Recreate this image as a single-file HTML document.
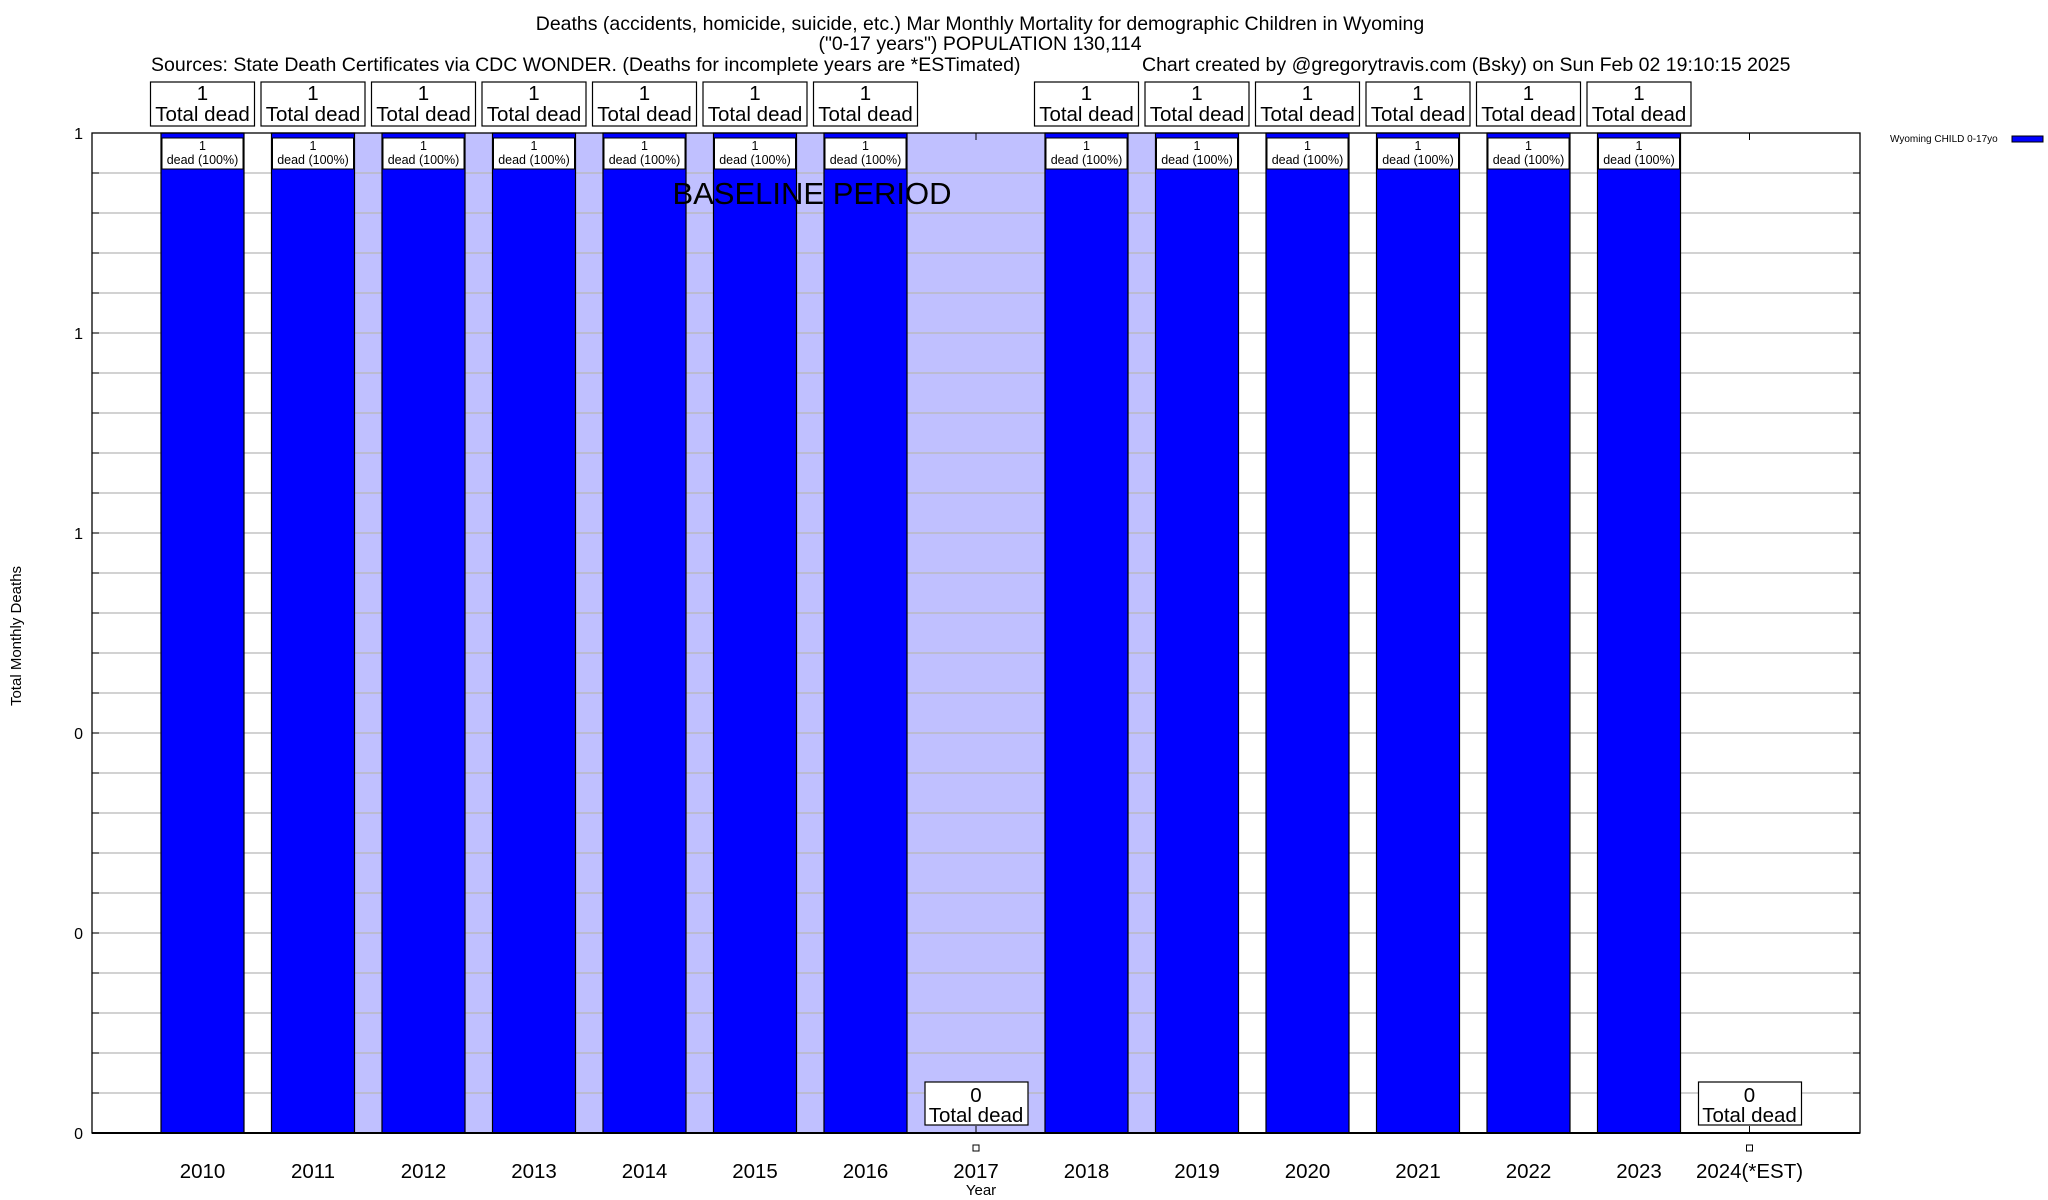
<!DOCTYPE html>
<html><head><meta charset="utf-8"><style>
html,body{margin:0;padding:0;background:#fff;}
svg{display:block;font-family:"Liberation Sans",Arial,sans-serif;}
</style></head><body>
<svg id="chart" width="2048" height="1200" viewBox="0 0 2048 1200" xmlns="http://www.w3.org/2000/svg">
<g font-size="19.5" fill="#000">
<text x="980" y="30" text-anchor="middle">Deaths (accidents, homicide, suicide, etc.) Mar Monthly Mortality for demographic Children in Wyoming</text>
<text x="980" y="50" text-anchor="middle">("0-17 years") POPULATION 130,114</text>
<text x="151" y="71">Sources: State Death Certificates via CDC WONDER. (Deaths for incomplete years are *ESTimated)</text>
<text x="1142" y="71">Chart created by @gregorytravis.com (Bsky) on Sun Feb 02 19:10:15 2025</text>
</g>
<g id="plot"></g>
<g>
<text x="1890" y="142" font-size="10">Wyoming CHILD 0-17yo</text>
<rect x="2012" y="136" width="31" height="6" fill="#0000ff" stroke="#000" stroke-width="1"/>
</g>
<text transform="translate(21,636) rotate(-90)" text-anchor="middle" font-size="15">Total Monthly Deaths</text>
<text x="981" y="1195" text-anchor="middle" font-size="15">Year</text>
</svg>
<script>
const categories = ["2010","2011","2012","2013","2014","2015","2016","2017","2018","2019","2020","2021","2022","2023","2024(*EST)"];
const deaths = [1,1,1,1,1,1,1,0,1,1,1,1,1,1,0];
const yTickValues = [0,0.2,0.4,0.6,0.8,1.0];
const yTickLabels = ["0","0","0","1","1","1"];
const baselineStart = 1.55;
const baselineEnd = 9.6;

const NS = "http://www.w3.org/2000/svg";
const plot = document.getElementById('plot');
const L = 92, R = 1860, T = 133, B = 1133;
const yMax = 1.0;
const x0 = 202.5, step = 110.5, barW = 83;
function xs(i){ return x0 + i*step; }
function ys(v){ return B - (v/yMax)*(B-T); }
function el(tag, attrs, parent){
  const e = document.createElementNS(NS, tag);
  for (const k in attrs) e.setAttribute(k, attrs[k]);
  (parent||plot).appendChild(e);
  return e;
}
const bg = el('rect',{x:L,y:T,width:R-L,height:B-T,fill:'#fff'});


const sh = el('rect',{x:xs(baselineStart)-step/2, y:T, width:(baselineEnd-baselineStart)*step, height:B-T, fill:'#c0c0ff'});


for (let k=1;k<25;k++){
  const y = ys(k*0.04);
  const g = el('line',{x1:L,x2:R,y1:y,y2:y,stroke:'#b8b8b8','stroke-width':1.3});
  
  
  const t1 = el('line',{x1:L,x2:L+7,y1:y,y2:y,stroke:'#000','stroke-width':1});
  
  
  const t2 = el('line',{x1:R-7,x2:R,y1:y,y2:y,stroke:'#000','stroke-width':1});
  
  
}
yTickValues.forEach((v,i)=>{
  const t = el('text',{x:83,y:ys(v)+6,'text-anchor':'end','font-size':16});
  t.textContent = yTickLabels[i];
  
  
});
categories.forEach((c,i)=>{
  const cx = xs(i), v = deaths[i];
  if (v > 0){
    const b = el('rect',{x:cx-barW/2,y:ys(v),width:barW,height:B-ys(v),fill:'#0000ff',stroke:'#000','stroke-width':1.2});
    
    
    const ib = el('rect',{x:cx-barW/2+1,y:ys(v)+5,width:barW-2,height:31,fill:'#fff',stroke:'#000','stroke-width':1});
    
    
    const t1 = el('text',{x:cx,y:ys(v)+17,'text-anchor':'middle','font-size':12.5});
    t1.textContent = String(v);
    
    
    const t2 = el('text',{x:cx,y:ys(v)+31,'text-anchor':'middle','font-size':12.5});
    t2.textContent = 'dead (100%)';
    
    
    const tb = el('rect',{x:cx-52,y:82,width:104,height:44,fill:'#fff',stroke:'#000','stroke-width':1.2});
    
    
    const tt1 = el('text',{x:cx,y:100,'text-anchor':'middle','font-size':20.5});
    tt1.textContent = String(v);
    
    
    const tt2 = el('text',{x:cx,y:121,'text-anchor':'middle','font-size':20.5});
    tt2.textContent = 'Total dead';
    
    
  } else {
    const tk1 = el('line',{x1:cx,x2:cx,y1:T,y2:T+7,stroke:'#000','stroke-width':1});
    
    
    const tk2 = el('line',{x1:cx,x2:cx,y1:B-7,y2:B,stroke:'#000','stroke-width':1});
    
    
    const tb = el('rect',{x:cx-51,y:ys(v)-51,width:103,height:43,fill:'#fff',stroke:'#000','stroke-width':1.2});
    
    
    const tt1 = el('text',{x:cx,y:ys(v)-31,'text-anchor':'middle','font-size':20.5});
    tt1.textContent = String(v);
    
    
    const tt2 = el('text',{x:cx,y:ys(v)-11,'text-anchor':'middle','font-size':20.5});
    tt2.textContent = 'Total dead';
    
    
    const sq = el('rect',{x:cx-3,y:B+12,width:6,height:6,fill:'#fff',stroke:'#000','stroke-width':1});
    
    
  }
  const xl = el('text',{x:cx,y:1178,'text-anchor':'middle','font-size':20.5});
  xl.textContent = c;
  
  
});
const bl = el('text',{x:812,y:204,'text-anchor':'middle','font-size':31});
bl.textContent = 'BASELINE PERIOD';


const bd = el('rect',{x:L,y:T,width:R-L,height:B-T,fill:'none',stroke:'#000','stroke-width':1.3});


const ax = el('line',{x1:L,x2:R,y1:B,y2:B,stroke:'#000','stroke-width':2});


</script>
</body></html>
